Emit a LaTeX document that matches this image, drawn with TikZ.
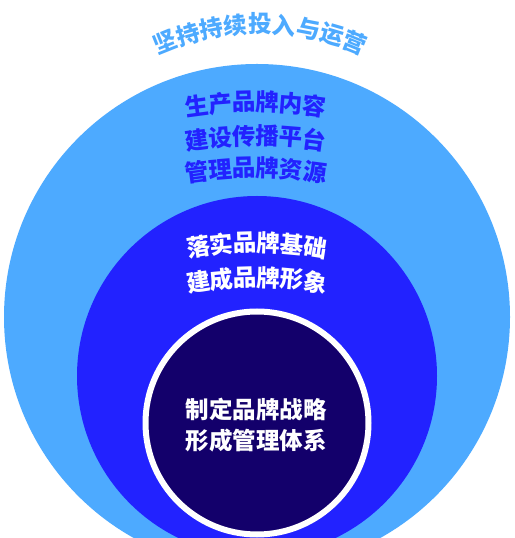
\documentclass[tikz,border=0pt]{standalone}
\usepackage{fontspec}
\usepackage{tikz}
\usetikzlibrary{calc}
\newfontfamily\cjk{Noto Sans CJK SC}
\definecolor{ringlight}{RGB}{77,170,255}
\definecolor{ringblue}{RGB}{34,34,255}
\definecolor{corenavy}{RGB}{19,0,107}
\def\charstep{23.6}
% one line of characters laid on an arc: name, top x, top y, radius, count, chars
\newcommand{\arcline}[6]{%
  \foreach \ch [count=\i] in {#6} {
    \pgfmathsetmacro{\ang}{90-(\i-(#5+1)/2)*\charstep/#4*180/pi}
    \node[rotate=\ang-90, inner sep=-1.5pt] (#1-\i) at ($(#2,#3-#4)+(\ang:#4)$) {\ch};
  }}
\begin{document}
\begin{tikzpicture}[x=1pt, y=1pt,
        lbl/.style={font=\cjk\bfseries\fontsize{23.5}{28}\selectfont, inner sep=0pt},
        toplbl/.style={lbl, text=ringlight},
        outerlbl/.style={lbl, text=ringblue},
        innerlbl/.style={lbl, text=white}
    ]
    \useasboundingbox (0,0) rectangle (514,538);
    \clip (0,0) rectangle (514,538);
    \coordinate (c-out) at (257,221);
    \coordinate (c-mid) at (257,162);
    \coordinate (c-core) at (257,115);
    \fill[ringlight] (c-out) circle (253);
    \fill[ringblue] (c-mid) circle (180);
    \draw[white, line width=6pt, fill=corenavy] (c-core) circle (111.5);
    % curved labels
    \begin{scope}[toplbl]
        \def\charstep{24.3}
        \arcline{top}{260}{514}{255}{9}{坚,持,持,续,投,入,与,运,营}
    \end{scope}
    \begin{scope}[outerlbl]
        \arcline{out1}{256}{436}{450}{6}{生,产,品,牌,内,容}
        \arcline{out2}{256}{402}{450}{6}{建,设,传,播,平,台}
        \arcline{out3}{256}{370}{450}{6}{管,理,品,牌,资,源}
    \end{scope}
    \begin{scope}[innerlbl]
        \arcline{mid1}{257}{295.5}{380}{6}{落,实,品,牌,基,础}
        \arcline{mid2}{257}{260.5}{380}{6}{建,成,品,牌,形,象}
    \end{scope}
    \node[innerlbl] (core1) at (256,129) {制定品牌战略};
    \node[innerlbl] (core2) at (256,97) {形成管理体系};
\end{tikzpicture}
\end{document}
